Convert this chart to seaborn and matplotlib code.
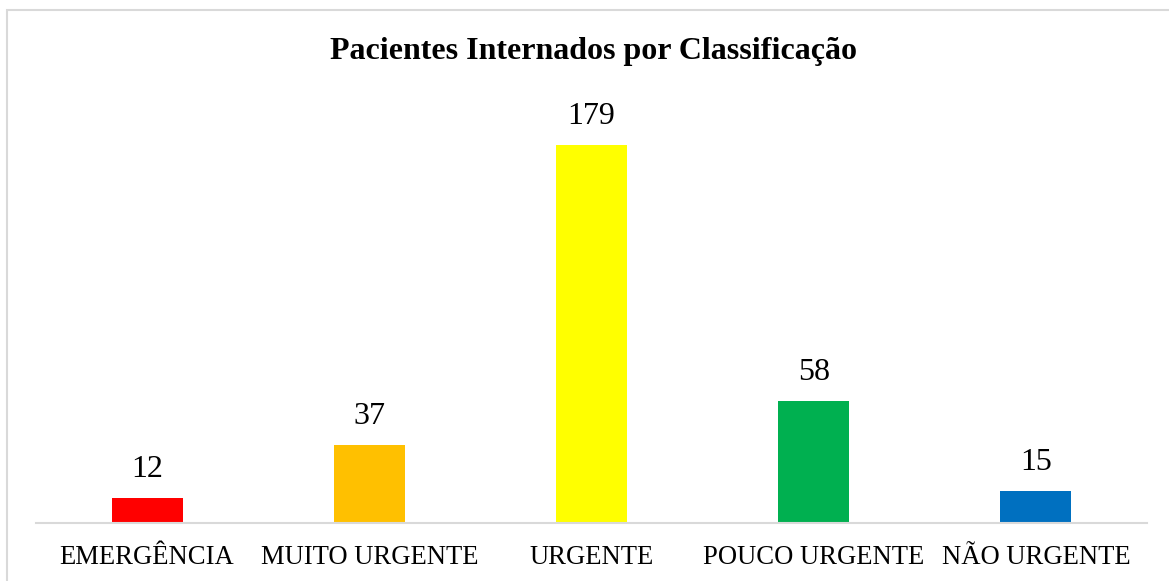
import matplotlib
matplotlib.use("Agg")
import matplotlib.pyplot as plt
import seaborn as sns
import pandas as pd
from matplotlib.patches import Rectangle

categories = ["EMERGÊNCIA", "MUITO URGENTE", "URGENTE", "POUCO URGENTE", "NÃO URGENTE"]
values = [12, 37, 179, 58, 15]
colors = ["#FF0000", "#FFC000", "#FFFF00", "#00B050", "#0070C0"]
title = "Pacientes Internados por Classificação"

sns.set_theme(style="white")
plt.rcParams["font.family"] = ["Liberation Serif", "DejaVu Serif"]

W, H = 1169, 581
fig = plt.figure(figsize=(W / 100, H / 100), dpi=100)
fig.patch.set_facecolor("white")
ax = fig.add_axes([36 / W, 1 - 523 / H, (1147 - 36) / W, (523 - 80) / H])

df = pd.DataFrame({"cat": categories, "val": values})
sns.barplot(data=df, x="cat", y="val", hue="cat", palette=colors, legend=False,
            width=0.32, ax=ax, saturation=1, linewidth=0)

ax.set_ylim(0, 179 * (523 - 80) / (523 - 145))
ax.set_xlim(-0.5, len(categories) - 0.5)
for i, v in enumerate(values):
    ax.annotate(str(v), (i, v), xytext=(0, 10), textcoords="offset points",
                ha="center", va="bottom", fontsize=23, color="black")

for s in ["top", "right", "left"]:
    ax.spines[s].set_visible(False)
ax.spines["bottom"].set_color("#D9D9D9")
ax.spines["bottom"].set_linewidth(1.5)
ax.set_yticks([])
ax.set_xlabel("")
ax.set_ylabel("")
ax.tick_params(axis="x", length=0, labelsize=19.2, pad=16, colors="black")
ax.set_facecolor("white")

fig.text(593 / W, 1 - 51 / H, title, ha="center", va="center",
         fontsize=23, fontweight="bold", color="black")

fig.patches.append(Rectangle((7 / W, -0.1), 1.2, 1 - 10 / H + 0.1, transform=fig.transFigure,
                             fill=False, edgecolor="#D9D9D9", linewidth=1.5))

fig.savefig("out.png", dpi=100, facecolor="white")
